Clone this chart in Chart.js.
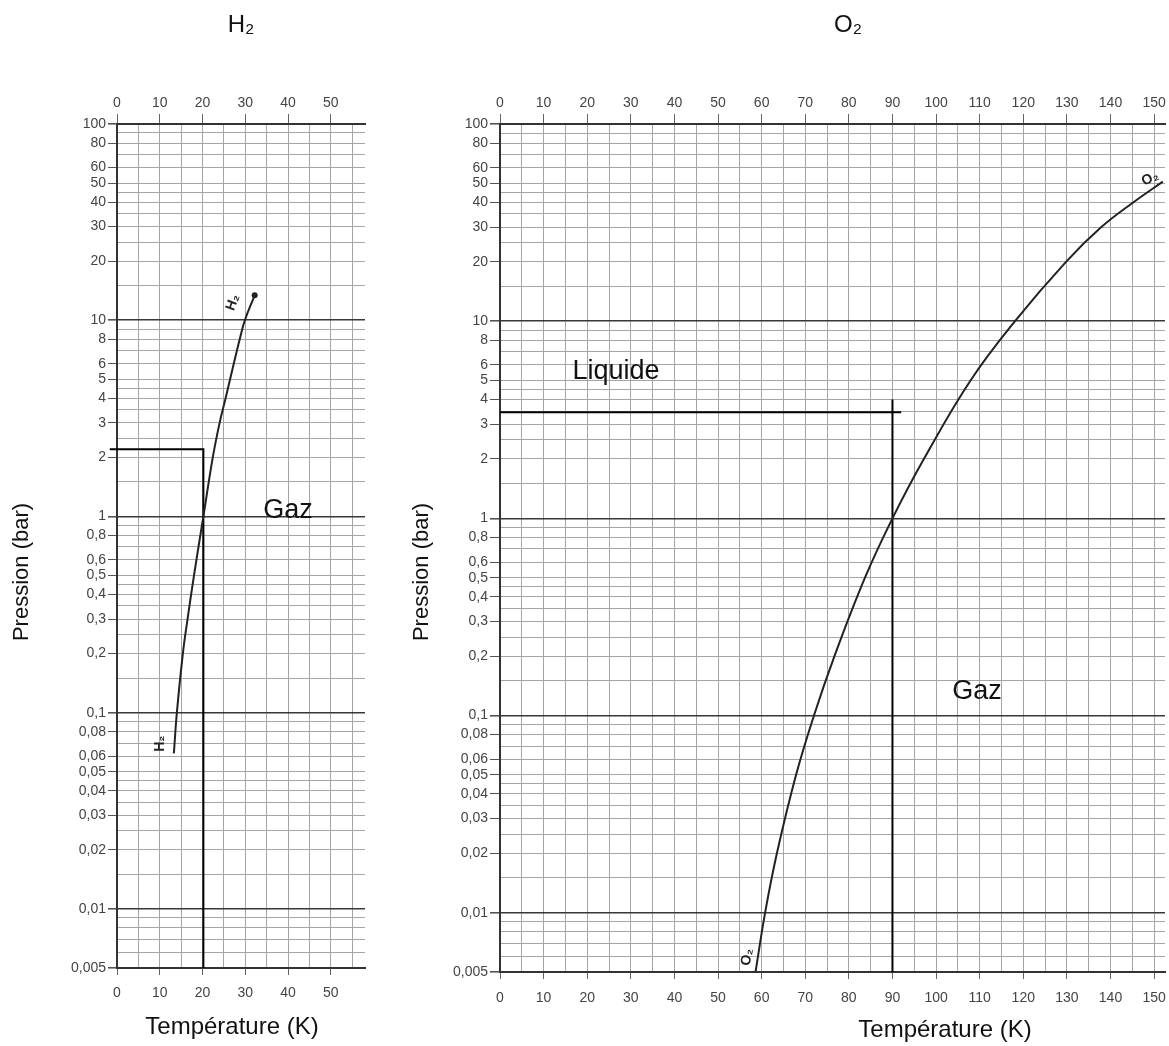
<!DOCTYPE html>
<html lang="fr">
<head>
<meta charset="utf-8">
<title>Pression de vapeur saturante H2 / O2</title>
<script src="https://cdn.jsdelivr.net/npm/chart.js@4.4.1/dist/chart.umd.min.js"></script>
<style>
  html, body { margin: 0; padding: 0; background: #fff; }
  body { width: 1169px; height: 1046px; position: relative; overflow: hidden; }
  canvas { position: absolute; top: 0; }
  #chartH2 { left: 0; }
  #chartO2 { left: 400px; }
</style>
</head>
<body>
<canvas id="chartH2" width="400" height="1046"></canvas>
<canvas id="chartO2" width="769" height="1046"></canvas>
<script>
// --- Données ---
const h2Temp = [13.3, 14.0, 15.4, 16.5, 18.0, 20.2, 22.4, 24.0, 25.4, 27.3, 28.7, 29.9, 32.2];
const h2Pres = [0.062, 0.1, 0.2, 0.3, 0.5, 1, 2, 3, 4, 6, 8, 10, 13.4];

const o2Temp = [58.6, 60.8, 63.5, 67.9, 72.0, 76.7, 83.7, 90.0, 97.2, 107.9, 118.1, 129.8, 137.9, 145.2, 152.0];
const o2Pres = [0.005, 0.01, 0.02, 0.05, 0.1, 0.2, 0.5, 1, 2, 5, 10, 20, 30, 40, 51];

// traits de lecture
const h2ReadT = [-1.7, 20.2, 20.2];
const h2ReadP = [2.2, 2.2, 0.005];
const o2ReadHT = [0, 92];
const o2ReadHP = [3.45, 3.45];
const o2ReadVT = [90, 90];
const o2ReadVP = [4.0, 0.005];

// graduations
const pressGrid = [0.005, 0.006, 0.007, 0.008, 0.009,
  0.01, 0.015, 0.02, 0.025, 0.03, 0.035, 0.04, 0.045, 0.05, 0.06, 0.07, 0.08, 0.09,
  0.1, 0.15, 0.2, 0.25, 0.3, 0.35, 0.4, 0.45, 0.5, 0.6, 0.7, 0.8, 0.9,
  1, 1.5, 2, 2.5, 3, 3.5, 4, 4.5, 5, 6, 7, 8, 9,
  10, 15, 20, 25, 30, 35, 40, 45, 50, 60, 70, 80, 90, 100];
const pressLabels = [0.005, 0.01, 0.02, 0.03, 0.04, 0.05, 0.06, 0.08,
  0.1, 0.2, 0.3, 0.4, 0.5, 0.6, 0.8, 1, 2, 3, 4, 5, 6, 8, 10, 20, 30, 40, 50, 60, 80, 100];
const pressBold = [0.005, 0.01, 0.1, 1, 10, 100];
const h2TempGrid = [0, 5, 10, 15, 20, 25, 30, 35, 40, 45, 50, 55];
const o2TempGrid = [0, 5, 10, 15, 20, 25, 30, 35, 40, 45, 50, 55, 60, 65, 70, 75,
  80, 85, 90, 95, 100, 105, 110, 115, 120, 125, 130, 135, 140, 145, 150];

const FONT = "'Liberation Sans', Arial, sans-serif";
const pts = (xs, ys) => xs.map((x, i) => ({ x, y: ys[i] }));
const frNum = v => String(v).replace('.', ',');

// --- Textes (titres, étiquettes) ---
function textPlugin(items) {
    return {
        id: 'textes',
        afterDraw(chart) {
            const ctx = chart.ctx;
            items.forEach(it => {
                const px = it.data ? chart.scales.x.getPixelForValue(it.at[0]) : it.at[0];
                const py = it.data ? chart.scales.y.getPixelForValue(it.at[1]) : it.at[1];
                ctx.save();
                ctx.translate(px, py);
                ctx.rotate((it.rot || 0) * Math.PI / 180);
                ctx.font = it.font;
                ctx.fillStyle = it.color || '#111';
                ctx.textAlign = 'center';
                ctx.textBaseline = 'middle';
                ctx.fillText(it.text, 0, 0);
                ctx.restore();
            });
        }
    };
}

function buildScales(tMax, tGrid, yWidth, topH, bottomH, yTick, bottomPad) {
    const setT = s => { s.ticks = tGrid.map(v => ({ value: v })); };
    const noPad = s => { s.paddingLeft = 0; s.paddingRight = 0; s.paddingTop = 0; s.paddingBottom = 0; };
    const tickCol = c => (c.tick && c.tick.value % 10 === 0) ? '#666' : 'rgba(0,0,0,0)';
    const tLabel = v => v % 10 === 0 ? String(v) : '';
    const tickFont = { family: FONT, size: 14 };
    return {
        x: {
            type: 'linear', position: 'bottom', min: 0, max: tMax,
            afterBuildTicks: setT,
            afterFit: s => { s.height = bottomH; noPad(s); },
            ticks: { callback: tLabel, autoSkip: false, maxRotation: 0, padding: bottomPad, color: '#444', font: tickFont },
            grid: { color: '#a4a4a4', lineWidth: 1, tickLength: 7, tickColor: tickCol },
            border: { display: true, color: '#333', width: 2 }
        },
        x2: {
            type: 'linear', position: 'top', min: 0, max: tMax,
            afterBuildTicks: setT,
            afterFit: s => { s.height = topH; noPad(s); },
            ticks: { callback: tLabel, autoSkip: false, maxRotation: 0, padding: 2, color: '#444', font: tickFont },
            grid: { drawOnChartArea: false, tickLength: 10, tickColor: tickCol },
            border: { display: true, color: '#333', width: 2 }
        },
        y: {
            type: 'logarithmic', position: 'left', min: 0.005, max: 100,
            afterBuildTicks: s => { s.ticks = pressGrid.map(v => ({ value: v })); },
            afterFit: s => { s.width = yWidth; noPad(s); },
            ticks: { callback: v => pressLabels.includes(v) ? frNum(v) : '', autoSkip: false, padding: 2, color: '#444', font: tickFont },
            grid: {
                color: c => (c.tick && pressBold.includes(c.tick.value)) ? '#383838' : '#a4a4a4',
                lineWidth: c => (c.tick && pressBold.includes(c.tick.value)) ? 1.6 : 1,
                tickLength: yTick,
                tickColor: c => (c.tick && pressLabels.includes(c.tick.value)) ? '#555' : 'rgba(0,0,0,0)'
            },
            border: { display: true, color: '#333', width: 2 }
        }
    };
}

const curveStyle = { borderColor: '#222', borderWidth: 2, pointRadius: 0, tension: 0.4, fill: false };
const readStyle = { borderColor: '#000', borderWidth: 2, pointRadius: 0, tension: 0, fill: false, clip: false };

// --- Graphique H2 ---
new Chart(document.getElementById('chartH2'), {
    type: 'line',
    data: {
        datasets: [
            { ...curveStyle, data: pts(h2Temp, h2Pres), pointRadius: h2Temp.map((t, i) => i === h2Temp.length - 1 ? 3 : 0), pointBackgroundColor: '#222', pointBorderWidth: 0 },
            { ...readStyle, data: pts(h2ReadT, h2ReadP) }
        ]
    },
    options: {
        responsive: false, animation: false,
        layout: { padding: { left: 0, right: 35, top: 0, bottom: 0 } },
        plugins: { legend: { display: false }, tooltip: { enabled: false } },
        scales: buildScales(58, h2TempGrid, 117, 124, 78, 9, 10)
    },
    plugins: [textPlugin([
        { text: 'H₂', at: [241, 25], font: `24px ${FONT}` },
        { text: 'Pression (bar)', at: [22, 572], rot: -90, font: `22px ${FONT}` },
        { text: 'Température (K)', at: [232, 1027], font: `24px ${FONT}` },
        { text: 'Gaz', at: [40, 1.07], data: true, font: `27px ${FONT}` },
        { text: 'H₂', at: [27.1, 12.3], data: true, rot: -70, font: `bold 14px ${FONT}`, color: '#222' },
        { text: 'H₂', at: [10.1, 0.0696], data: true, rot: -90, font: `bold 14px ${FONT}`, color: '#222' }
    ])]
});

// --- Graphique O2 ---
new Chart(document.getElementById('chartO2'), {
    type: 'line',
    data: {
        datasets: [
            { ...curveStyle, data: pts(o2Temp, o2Pres) },
            { ...readStyle, data: pts(o2ReadHT, o2ReadHP) },
            { ...readStyle, data: pts(o2ReadVT, o2ReadVP) }
        ]
    },
    options: {
        responsive: false, animation: false,
        layout: { padding: { left: 0, right: 4, top: 0, bottom: 0 } },
        plugins: { legend: { display: false }, tooltip: { enabled: false } },
        scales: buildScales(152.5, o2TempGrid, 100, 124, 74, 10, 11)
    },
    plugins: [textPlugin([
        { text: 'O₂', at: [448, 25], font: `24px ${FONT}` },
        { text: 'Pression (bar)', at: [22, 572], rot: -90, font: `22px ${FONT}` },
        { text: 'Température (K)', at: [545, 1030], font: `24px ${FONT}` },
        { text: 'Liquide', at: [26.6, 5.53], data: true, font: `27px ${FONT}` },
        { text: 'Gaz', at: [109.4, 0.132], data: true, font: `27px ${FONT}` },
        { text: 'O₂', at: [149.1, 52.8], data: true, rot: -25, font: `bold 14px ${FONT}`, color: '#222' },
        { text: 'O₂', at: [56.7, 0.00595], data: true, rot: -80, font: `bold 14px ${FONT}`, color: '#222' }
    ])]
});
</script>
</body>
</html>
